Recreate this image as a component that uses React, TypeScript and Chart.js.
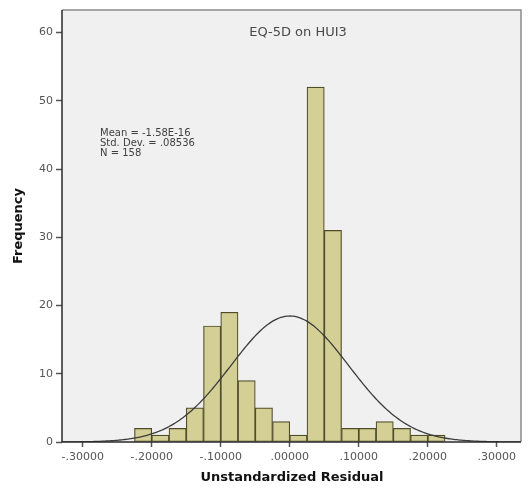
import React, { useEffect, useRef } from "react";
import { Chart, registerables } from "chart.js";

Chart.register(...registerables);

// Histogram bins (lower edges) and their counts
const binLowerEdges = [
  -0.225, -0.2, -0.175, -0.15, -0.125, -0.1, -0.075, -0.05, -0.025,
  0, 0.025, 0.05, 0.075, 0.1, 0.125, 0.15, 0.175, 0.2,
];
const binWidth = 0.025;
const frequencies = [2, 1, 2, 5, 17, 19, 9, 5, 3, 1, 52, 31, 2, 2, 3, 2, 1, 1];

// Summary statistics shown in the plot
const meanResidual = -1.58e-16;
const sdResidual = 0.08536;
const nCases = 158;

// Axis extents and ticks
const xRange = [-0.33, 0.335];
const yRange = [0, 63.3];
const xTickValues = [-0.3, -0.2, -0.1, 0, 0.1, 0.2, 0.3];
const yTickValues = [0, 10, 20, 30, 40, 50, 60];

const chartTitle = "EQ-5D on HUI3";
const xAxisTitle = "Unstandardized Residual";
const yAxisTitle = "Frequency";
const statsLines = ["Mean = -1.58E-16", "Std. Dev. = .08536", "N = 158"];

const FONT = "'DejaVu Sans', 'Liberation Sans', Arial, sans-serif";

function formatResidual(v: number): string {
  const s = Math.abs(v).toFixed(5).replace(/^0/, "");
  return (v < -1e-9 ? "-" : "") + s;
}

// Fitted normal curve scaled to counts per bin
function normalCurve(samples: number) {
  const pts: { x: number; y: number }[] = [];
  const [a, b] = xRange;
  for (let i = 0; i <= samples; i++) {
    const x = a + ((b - a) * i) / samples;
    const z = (x - meanResidual) / sdResidual;
    const y = (nCases * binWidth * Math.exp(-0.5 * z * z)) / (sdResidual * Math.sqrt(2 * Math.PI));
    pts.push({ x, y });
  }
  return pts;
}

const framePlugin = {
  id: "frame",
  beforeDraw(chart: any) {
    const { ctx, chartArea: ca, width, height } = chart;
    ctx.save();
    ctx.fillStyle = "#ffffff";
    ctx.fillRect(0, 0, width, height);
    ctx.fillStyle = "#f0f0f0";
    ctx.fillRect(ca.left, ca.top, ca.right - ca.left, ca.bottom - ca.top);
    ctx.restore();
  },
  afterDraw(chart: any) {
    const { ctx, chartArea: ca } = chart;
    ctx.save();
    // plot frame
    ctx.strokeStyle = "#8a8a8a";
    ctx.lineWidth = 1.5;
    ctx.beginPath();
    ctx.moveTo(ca.left, ca.top);
    ctx.lineTo(ca.right, ca.top);
    ctx.lineTo(ca.right, ca.bottom);
    ctx.stroke();
    ctx.strokeStyle = "#2a2a2a";
    ctx.beginPath();
    ctx.moveTo(ca.left, ca.top);
    ctx.lineTo(ca.left, ca.bottom);
    ctx.lineTo(ca.right, ca.bottom);
    ctx.stroke();

    // chart title inside the plot
    ctx.fillStyle = "#4a4a4a";
    ctx.font = `13px ${FONT}`;
    ctx.textAlign = "center";
    ctx.textBaseline = "middle";
    ctx.fillText(chartTitle, 298, 33);

    // summary statistics
    ctx.font = `10px ${FONT}`;
    ctx.textAlign = "left";
    ctx.fillStyle = "#404040";
    statsLines.forEach((t, i) => ctx.fillText(t, 100, 133 + i * 10));

    // axis titles
    ctx.fillStyle = "#111111";
    ctx.font = `bold 13px ${FONT}`;
    ctx.textAlign = "center";
    ctx.fillText(xAxisTitle, 292, 478);
    ctx.translate(19, 226);
    ctx.rotate(-Math.PI / 2);
    ctx.fillText(yAxisTitle, 0, 0);
    ctx.restore();
  },
};

export default function App() {
  const canvasRef = useRef<HTMLCanvasElement | null>(null);

  useEffect(() => {
    document.body.style.margin = "0";
    const canvas = canvasRef.current;
    if (!canvas) return;

    const barData = binLowerEdges.map((lo, i) => ({ x: lo + binWidth / 2, y: frequencies[i] }));

    const chart = new Chart(canvas, {
      type: "bar",
      data: {
        datasets: [
          {
            type: "line",
            data: normalCurve(300),
            borderColor: "#3c3c3c",
            borderWidth: 1.3,
            pointRadius: 0,
            tension: 0,
            fill: false,
            order: 0,
          } as any,
          {
            type: "bar",
            data: barData,
            backgroundColor: "#d4cf95",
            borderColor: "#4f4c2a",
            borderWidth: 1.2,
            borderSkipped: false,
            barPercentage: 1,
            categoryPercentage: 1,
            order: 1,
          } as any,
        ],
      },
      options: {
        animation: false,
        responsive: false,
        events: [],
        layout: { padding: { top: 10, right: 7, left: 0, bottom: 0 } },
        plugins: { legend: { display: false }, tooltip: { enabled: false } },
        scales: {
          x: {
            type: "linear",
            offset: false,
            min: xRange[0],
            max: xRange[1],
            afterBuildTicks: (s: any) => {
              s.ticks = xTickValues.map((v) => ({ value: v }));
            },
            afterFit: (s: any) => {
              s.height = 49;
            },
            grid: {
              offset: false,
              drawOnChartArea: false,
              drawTicks: true,
              tickLength: 5,
              tickColor: "#555555",
              tickWidth: 1.5,
            },
            border: { display: false },
            ticks: {
              autoSkip: false,
              maxRotation: 0,
              padding: 4,
              color: "#555555",
              font: { family: FONT, size: 11 },
              callback: (v: any) => formatResidual(Number(v)),
            },
          },
          y: {
            type: "linear",
            min: yRange[0],
            max: yRange[1],
            afterBuildTicks: (s: any) => {
              s.ticks = yTickValues.map((v) => ({ value: v }));
            },
            afterFit: (s: any) => {
              s.width = 62;
            },
            grid: { drawOnChartArea: false, drawTicks: true, tickLength: 6, tickColor: "#555555", tickWidth: 1.5 },
            border: { display: false },
            ticks: {
              padding: 3,
              color: "#555555",
              font: { family: FONT, size: 11 },
            },
          },
        },
      },
      plugins: [framePlugin],
    } as any);

    return () => chart.destroy();
  }, []);

  return (
    <div style={{ position: "absolute", left: 0, top: 0, width: 528, height: 491, background: "#fff" }}>
      <canvas ref={canvasRef} width={528} height={491} style={{ display: "block" }} />
    </div>
  );
}
